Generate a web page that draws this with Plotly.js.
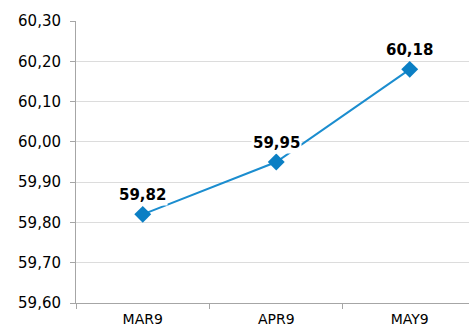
<!DOCTYPE html>
<html>
<head>
<meta charset="utf-8">
<script src="https://cdn.plot.ly/plotly-3.0.1.min.js"></script>
<style>
  html, body { margin: 0; padding: 0; background: #fff; }
  #chart { width: 469px; height: 332px; }
</style>
</head>
<body>
<div id="chart"></div>
<script>
// Monthly contract values
const months = ["MAR9", "APR9", "MAY9"];
const prices = [59.82, 59.95, 60.18];
const yTicks = [59.6, 59.7, 59.8, 59.9, 60.0, 60.1, 60.2, 60.3];

const lineColor = "#1b8dcf";
const markerColor = "#0b7fc4";
const fontFamily = "DejaVu Sans, Verdana, sans-serif";

function fmt(v) {
  return v.toFixed(2).replace(".", ",");
}

const trace = {
  type: "scatter",
  mode: "lines+markers",
  x: months,
  y: prices,
  line: { color: lineColor, width: 2 },
  marker: { symbol: "diamond", size: 13, color: markerColor },
  hoverinfo: "skip",
  cliponaxis: false
};

// Value labels above each point, with a white backing over the line
const annotations = months.map((m, i) => ({
  x: m,
  y: prices[i],
  xref: "x",
  yref: "y",
  text: "<b>" + fmt(prices[i]) + "</b>",
  showarrow: false,
  yshift: 19,
  bgcolor: "#ffffff",
  borderpad: 1,
  font: { family: fontFamily, size: 15, color: "#000000" }
}));

const layout = {
  width: 469,
  height: 332,
  margin: { l: 76, r: 0, t: 21, b: 29, pad: 0 },
  paper_bgcolor: "#ffffff",
  plot_bgcolor: "#ffffff",
  separators: ",.",
  showlegend: false,
  font: { family: fontFamily, size: 14, color: "#000000" },
  xaxis: {
    type: "category",
    range: [-0.5, 2.444],
    showgrid: false,
    showline: true,
    linecolor: "#a6a6a6",
    linewidth: 1,
    ticks: "outside",
    tickson: "boundaries",
    ticklen: 5,
    tickcolor: "#a6a6a6",
    ticklabelstandoff: 3,
    tickfont: { family: fontFamily, size: 14, color: "#000000" },
    fixedrange: true
  },
  yaxis: {
    range: [59.6, 60.3],
    tickvals: yTicks,
    ticktext: yTicks.map(fmt),
    showgrid: true,
    gridcolor: "#dcdcdc",
    gridwidth: 1,
    zeroline: false,
    showline: true,
    linecolor: "#a6a6a6",
    linewidth: 1,
    ticks: "outside",
    ticklen: 5,
    tickcolor: "#a6a6a6",
    ticklabelstandoff: 6,
    tickfont: { family: fontFamily, size: 15, color: "#000000" },
    fixedrange: true
  },
  annotations: annotations
};

Plotly.newPlot("chart", [trace], layout, { displayModeBar: false, staticPlot: true });
</script>
</body>
</html>
